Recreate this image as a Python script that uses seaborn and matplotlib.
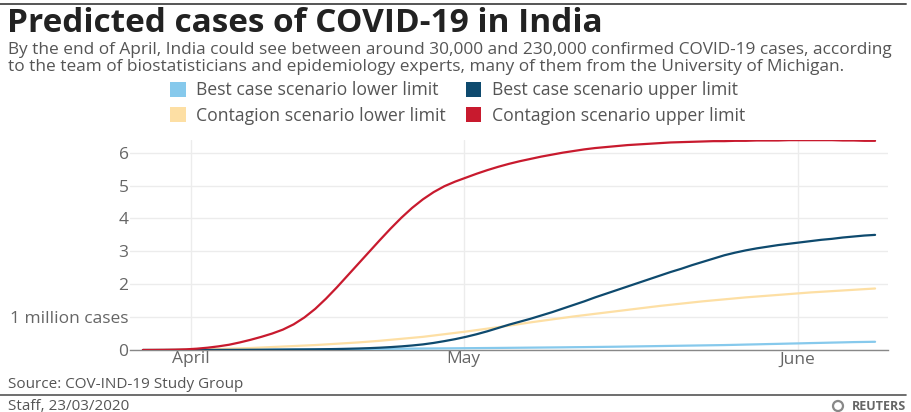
import matplotlib
matplotlib.use("Agg")
import matplotlib.pyplot as plt
from matplotlib.patches import Patch, Ellipse
from matplotlib.lines import Line2D
import pandas as pd
import seaborn as sns

# Days counted from 1 April 2020
days = list(range(0, 69))

# Predicted confirmed cases, millions
best_lower = [0.0, 0.0005, 0.001, 0.0015, 0.002, 0.003, 0.004, 0.005, 0.006, 0.0075,
              0.009, 0.0105, 0.012, 0.014, 0.016, 0.018, 0.02, 0.0225, 0.025, 0.0275,
              0.03, 0.0325, 0.035, 0.0375, 0.04, 0.0425, 0.045, 0.0475, 0.05, 0.0525,
              0.055, 0.0575, 0.06, 0.063, 0.066, 0.069, 0.072, 0.075, 0.078, 0.081,
              0.085, 0.088, 0.092, 0.096, 0.10, 0.105, 0.11, 0.115, 0.12, 0.125,
              0.13, 0.135, 0.14, 0.145, 0.15, 0.157, 0.165, 0.172, 0.18, 0.187,
              0.195, 0.202, 0.21, 0.217, 0.225, 0.232, 0.24, 0.245, 0.25]
best_upper = [0.0, 0.0, 0.0, 0.001, 0.001, 0.002, 0.002, 0.003, 0.004, 0.005,
              0.007, 0.008, 0.01, 0.012, 0.015, 0.017, 0.02, 0.025, 0.03, 0.037,
              0.045, 0.056, 0.07, 0.088, 0.11, 0.137, 0.17, 0.215, 0.27, 0.33,
              0.40, 0.48, 0.57, 0.67, 0.77, 0.86, 0.95, 1.05, 1.15, 1.26,
              1.37, 1.48, 1.60, 1.71, 1.82, 1.93, 2.04, 2.15, 2.26, 2.37,
              2.47, 2.58, 2.68, 2.78, 2.88, 2.96, 3.03, 3.09, 3.14, 3.19,
              3.23, 3.27, 3.31, 3.35, 3.38, 3.42, 3.45, 3.48, 3.50]
contagion_lower = [0.0, 0.001, 0.003, 0.006, 0.01, 0.015, 0.02, 0.03, 0.04, 0.05,
                   0.06, 0.075, 0.09, 0.105, 0.12, 0.135, 0.15, 0.17, 0.19, 0.21,
                   0.23, 0.255, 0.28, 0.31, 0.34, 0.37, 0.40, 0.44, 0.48, 0.52,
                   0.56, 0.605, 0.65, 0.695, 0.74, 0.79, 0.84, 0.885, 0.93, 0.975,
                   1.02, 1.06, 1.10, 1.14, 1.18, 1.22, 1.26, 1.30, 1.34, 1.375,
                   1.41, 1.445, 1.48, 1.51, 1.54, 1.57, 1.60, 1.625, 1.65, 1.675,
                   1.70, 1.725, 1.75, 1.77, 1.79, 1.81, 1.83, 1.85, 1.87]
contagion_upper = [0.0, 0.002, 0.005, 0.01, 0.02, 0.04, 0.07, 0.11, 0.16, 0.23,
                   0.31, 0.40, 0.50, 0.62, 0.78, 0.99, 1.25, 1.56, 1.90, 2.26,
                   2.62, 2.98, 3.34, 3.69, 4.02, 4.32, 4.58, 4.80, 4.98, 5.12,
                   5.24, 5.36, 5.47, 5.57, 5.66, 5.74, 5.81, 5.88, 5.94, 6.00,
                   6.05, 6.10, 6.14, 6.17, 6.20, 6.23, 6.25, 6.27, 6.29, 6.31,
                   6.32, 6.33, 6.34, 6.35, 6.35, 6.36, 6.36, 6.37, 6.37, 6.37,
                   6.38, 6.38, 6.38, 6.38, 6.38, 6.37, 6.37, 6.36, 6.36]

series_names = ["Best case scenario lower limit", "Contagion scenario lower limit",
                "Best case scenario upper limit", "Contagion scenario upper limit"]
series_values = [best_lower, contagion_lower, best_upper, contagion_upper]
series_colors = ["#86c9ec", "#fddfa4", "#0e4a6e", "#c81a2e"]

month_ticks = [4.5, 29.8, 60.8]
month_labels = ["April", "May", "June"]
y_ticks = [0, 1, 2, 3, 4, 5, 6]
y_labels = ["0", "1 million cases", "2", "3", "4", "5", "6"]

df = pd.concat(
    [pd.DataFrame({"day": days, "cases": v, "scenario": n})
     for n, v in zip(series_names, series_values)],
    ignore_index=True,
)

sns.set_theme(style="white")
plt.rcParams["font.family"] = ["Open Sans", "DejaVu Sans"]

W, H = 912, 412
fig = plt.figure(figsize=(W / 100, H / 100), dpi=100)
fig.patch.set_facecolor("white")


def fx(px):
    return px / W


def fy(py):
    return 1 - py / H


ax = fig.add_axes([fx(130), fy(350), fx(888) - fx(130), fy(139.5) - fy(350)])

sns.lineplot(data=df, x="day", y="cases", hue="scenario",
             hue_order=series_names, palette=dict(zip(series_names, series_colors)),
             linewidth=1.6, legend=False, ax=ax, zorder=3)

ax.set_xlim(-1.2, 69.2)
ax.set_ylim(0, 6.4)
ax.set_xticks(month_ticks)
ax.set_xticklabels(month_labels)
ax.set_yticks(y_ticks)
ax.set_yticklabels(y_labels)
ax.set_xlabel("")
ax.set_ylabel("")
ax.tick_params(axis="both", length=0, labelsize=12.5, labelcolor="#666666")
ax.tick_params(axis="x", pad=1)
ax.tick_params(axis="y", pad=1)
ax.grid(True, color="#ececec", linewidth=1.0)
ax.set_axisbelow(True)
for s in ["top", "right", "left"]:
    ax.spines[s].set_visible(False)
ax.spines["bottom"].set_color("#888888")
ax.spines["bottom"].set_linewidth(1.0)

# Header
fig.add_artist(Line2D([0, fx(906)], [fy(4), fy(4)], color="#555555", linewidth=1.4))
fig.text(fx(7), fy(23), "Predicted cases of COVID-19 in India", fontsize=24,
         fontweight="bold", color="#222222", va="center", ha="left")
fig.text(fx(8), fy(50),
         "By the end of April, India could see between around 30,000 and 230,000 "
         "confirmed COVID-19 cases, according",
         fontsize=12.4, color="#555555", va="center", ha="left")
fig.text(fx(8), fy(67),
         "to the team of biostatisticians and epidemiology experts, many of them "
         "from the University of Michigan.",
         fontsize=12.4, color="#555555", va="center", ha="left")

# Legend
handles = [Patch(facecolor=c, edgecolor="none") for c in series_colors]
fig.legend(handles, series_names, ncol=2, loc="center left",
           bbox_to_anchor=(fx(170), fy(103)), frameon=False, fontsize=12.7,
           labelcolor="#555555", handlelength=0.9, handleheight=0.9,
           handletextpad=0.6, columnspacing=1.1, labelspacing=0.4,
           borderaxespad=0, borderpad=0)

# Footer
fig.text(fx(8), fy(385), "Source: COV-IND-19 Study Group", fontsize=11,
         color="#555555", va="center", ha="left")
fig.add_artist(Line2D([0, fx(906)], [fy(395), fy(395)], color="#555555", linewidth=1.2))
fig.text(fx(8), fy(406), "Staff, 23/03/2020", fontsize=11,
         color="#555555", va="center", ha="left")
fig.text(fx(906), fy(406), "REUTERS", fontsize=9, fontweight="bold",
         color="#666666", va="center", ha="right")
fig.add_artist(Ellipse((fx(838), fy(406)), 10 / W, 10 / H, transform=fig.transFigure,
                       facecolor="none", edgecolor="#888888", linewidth=1.6))

fig.savefig("out.png", dpi=100, facecolor="white")
